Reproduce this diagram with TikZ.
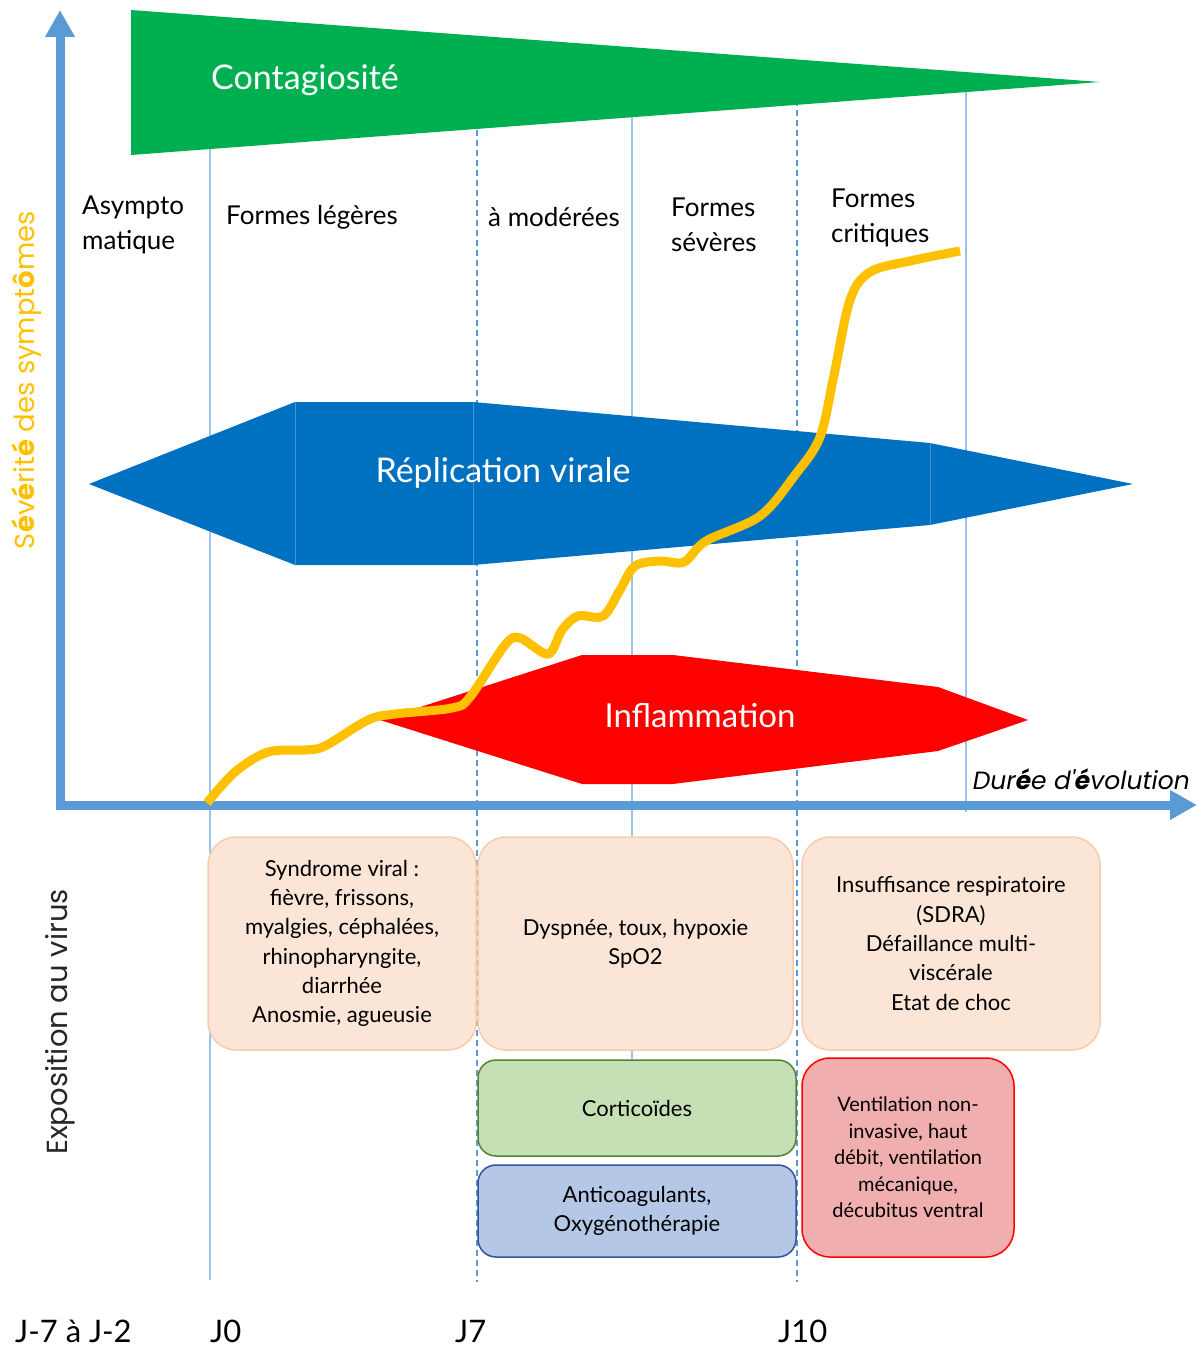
\documentclass[tikz,border=0pt]{standalone}
\usepackage{fontspec}
\setmainfont{Lato}
\newfontfamily\thinfont{Poppins}
\usepackage{tikz}
\usetikzlibrary{arrows.meta}
\definecolor{axisblue}{HTML}{5B9BD5}
\definecolor{lineblue}{HTML}{9DC3E6}
\definecolor{contgreen}{HTML}{00B050}
\definecolor{repblue}{HTML}{0070C0}
\definecolor{inflred}{HTML}{FF0000}
\definecolor{sevyellow}{HTML}{FFC000}
\definecolor{peach}{HTML}{FBE5D6}
\definecolor{peachline}{HTML}{F8CBAD}
\definecolor{corfill}{HTML}{C5E0B4}
\definecolor{corline}{HTML}{548235}
\definecolor{antfill}{HTML}{B4C7E7}
\definecolor{antline}{HTML}{2F5597}
\definecolor{venfill}{HTML}{F0AEAE}
\tikzstyle{phase} = [anchor=west, align=left, inner sep=0pt, font=\fontsize{26}{35}\selectfont]
\tikzstyle{bandtext} = [text=white, inner sep=0pt, font=\fontsize{34}{36}\selectfont]
\tikzstyle{symptome} = [draw=peachline, fill=peach, line width=1.5pt, rounded corners=28pt,
    align=center, inner sep=0pt, font=\fontsize{22}{29.3}\selectfont]
\tikzstyle{traitement} = [line width=1.5pt, rounded corners=18pt,
    align=center, inner sep=0pt, font=\fontsize{22}{29.3}\selectfont]
\tikzstyle{jour} = [anchor=base west, inner sep=0pt, font=\fontsize{31}{31}\selectfont]
\tikzstyle{repere} = [draw=lineblue, line width=1.2pt]
\tikzstyle{pointille} = [draw=axisblue, line width=1.2pt, dash pattern=on 6pt off 4pt]
\tikzstyle{axe} = [draw=axisblue, line width=9pt, -{Triangle[length=27pt,width=28pt]}]

\begin{document}
\begin{tikzpicture}[x=1pt, y=-1pt]
    \useasboundingbox (0,0) rectangle (1200,1351);
    % reperes temporels
    \path [repere] (210,100) -- (210,1280);
    \path [repere] (632,100) -- (632,1060);
    \path [repere] (966,90) -- (966,812);
    \path [pointille] (477,100) -- (477,1282);
    \path [pointille] (797,80) -- (797,1282);
    % bandes
    \fill [contgreen] (131,10) -- (1100,82) -- (131,155) -- cycle;
    \fill [repblue] (89,484) -- (295,402) -- (473,402) -- (930,443) -- (1133,484)
        -- (930,525) -- (473,565) -- (295,565) -- cycle;
    \draw [repblue!75!white, line width=0.6pt] (295,402) -- (295,565) (473,402) -- (473,565) (930,443) -- (930,525);
    \fill [inflred] (380,720) -- (582,655) -- (673,655) -- (938,687) -- (1028,720)
        -- (938,751) -- (673,784) -- (582,784) -- cycle;
    \node [bandtext] (contagion) at (305,80) {Contagiosité};
    \node [bandtext] (replication) at (503,473) {Réplication virale};
    \node [bandtext, font=\fontsize{33}{36}\selectfont] (inflammation) at (700,716) {Inflammation};
    % axes
    \coordinate (origine) at (60,809);
    \coordinate (haut) at (60,10);
    \coordinate (droite) at (1197,805);
    \coordinate (gauche) at (56,805);
    \path [axe] (origine) -- (haut);
    \path [axe] (gauche) -- (droite);
    \node [rotate=90, text=sevyellow, inner sep=0pt, font=\thinfont\fontsize{27.5}{27.5}\selectfont] (severite) at (27,380)
        {S\textbf{é}v\textbf{é}rit\textbf{é} des sympt\textbf{ô}mes};
    \node [rotate=90, text=black!85, inner sep=0pt, font=\thinfont\fontsize{29}{29}\selectfont] (exposition) at (60,1022)
        {Exposition au virus};
    \node [anchor=base east, inner sep=0pt, font=\thinfont\itshape\fontsize{25}{25}\selectfont] (duree) at (1190,789)
        {Dur\textbf{é}e d'\textbf{é}volution};
    % formes cliniques
    \node [phase] (asympto) at (82,225) {Asympto\\matique};
    \node [phase] (legeres) at (226,217) {Formes légères};
    \node [phase] (moderees) at (488,217) {à modérées};
    \node [phase] (severes) at (671,225) {Formes\\sévères};
    \node [phase] (critiques) at (831,218) {Formes\\critiques};
    % severite
    \draw [sevyellow, line width=9pt] plot [smooth, tension=0.55] coordinates {
        (207,803) (235,772) (268,752) (305,750) (325,746) (368,720) (395,714) (452,708)
        (470,697) (505,645) (520,638) (548,654) (562,630) (578,616) (603,616) (620,590)
        (635,566) (660,561) (684,562) (706,541) (760,516) (795,475) (820,437) (834,375)
        (850,300) (870,272) (910,261) (960,251)};
    % symptomes
    \node [symptome, minimum width=268pt, minimum height=213pt] (syndrome) at (342,943.5)
        {Syndrome viral :\\fièvre, frissons,\\myalgies, céphalées,\\rhinopharyngite,\\diarrhée\\Anosmie, agueusie};
    \node [symptome, minimum width=315pt, minimum height=213pt] (dyspnee) at (635.5,943.5)
        {Dyspnée, toux, hypoxie\\SpO2};
    \node [symptome, minimum width=298pt, minimum height=213pt] (insuffisance) at (951,943.5)
        {Insuffisance respiratoire\\(SDRA)\\Défaillance multi-\\viscérale\\Etat de choc};
    % traitements
    \node [traitement, draw=corline, fill=corfill, minimum width=318pt, minimum height=96pt] (cortico) at (637,1108)
        {Corticoïdes};
    \node [traitement, draw=antline, fill=antfill, minimum width=318pt, minimum height=92pt] (anticoag) at (637,1211)
        {Anticoagulants,\\Oxygénothérapie};
    \node [traitement, draw=inflred, fill=venfill, rounded corners=28pt, minimum width=212pt, minimum height=199pt,
        font=\fontsize{20}{26.5}\selectfont] (ventilation) at (908,1157.5)
        {Ventilation non-\\invasive, haut\\débit, ventilation\\mécanique,\\décubitus ventral};
    % jours
    \node [jour] (jmoins) at (15,1342) {J-7 à J-2};
    \node [jour] (jzero) at (210,1342) {J0};
    \node [jour] (jsept) at (455,1342) {J7};
    \node [jour] (jdix) at (778,1342) {J10};
\end{tikzpicture}
\end{document}
